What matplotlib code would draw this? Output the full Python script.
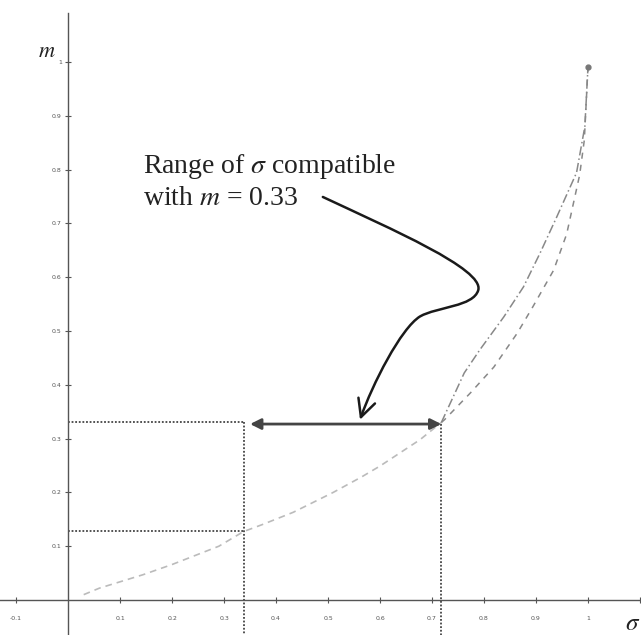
import numpy as np
import matplotlib
matplotlib.use("Agg")
import matplotlib.pyplot as plt
from matplotlib.path import Path
from matplotlib.patches import FancyArrowPatch

plt.rcParams['font.family'] = ['Liberation Serif', 'DejaVu Serif']
plt.rcParams['mathtext.fontset'] = 'stix'

# lower branch, shared by both curves (sigma, m)
sigma_low = [0.03, 0.06, 0.144, 0.2, 0.29, 0.337, 0.373, 0.433, 0.51, 0.565, 0.6, 0.677, 0.718]
m_low = [0.01, 0.022, 0.047, 0.066, 0.1, 0.127, 0.14, 0.163, 0.2, 0.229, 0.249, 0.298, 0.33]

# upper branches
sigma_a = [0.718, 0.762, 0.792, 0.838, 0.876, 0.908, 0.94, 0.978, 0.994, 1.0]
m_a = [0.33, 0.422, 0.465, 0.526, 0.582, 0.645, 0.712, 0.794, 0.88, 0.99]
sigma_b = [0.718, 0.724, 0.774, 0.819, 0.864, 0.894, 0.934, 0.959, 0.984, 0.993, 1.0]
m_b = [0.33, 0.335, 0.385, 0.433, 0.496, 0.545, 0.613, 0.68, 0.79, 0.855, 0.99]

# range of sigma read at m = 0.33, and the point at sigma_min
m_target = 0.33
sigma_min = 0.338
sigma_max = 0.718
m_at_sigma_min = 0.128

xtick_vals = [-0.1, 0.1, 0.2, 0.3, 0.4, 0.5, 0.6, 0.7, 0.8, 0.9, 1.0, 1.1]
xtick_labels = ['-0.1', '0.1', '0.2', '0.3', '0.4', '0.5', '0.6', '0.7', '0.8', '0.9', '1', '']
ytick_vals = [0.1, 0.2, 0.3, 0.4, 0.5, 0.6, 0.7, 0.8, 0.9, 1.0]
ytick_labels = ['0.1', '0.2', '0.3', '0.4', '0.5', '0.6', '0.7', '0.8', '0.9', '1']

fig = plt.figure(figsize=(6.41, 6.35), dpi=100)
ax = fig.add_axes([0, 0, 1, 1])
ax.set_xlim(-0.131, 1.102)
ax.set_ylim(-0.065, 1.115)

for s in ['top', 'right']:
    ax.spines[s].set_visible(False)
ax.spines['left'].set_position(('data', 0))
ax.spines['bottom'].set_position(('data', 0))
ax.spines['left'].set_bounds(-0.065, 1.09)
ax.spines['left'].set_color('#555555')
ax.spines['bottom'].set_color('#555555')
ax.spines['left'].set_linewidth(1.0)
ax.spines['bottom'].set_linewidth(1.0)

ax.set_xticks(xtick_vals)
ax.set_xticklabels(xtick_labels)
ax.set_yticks(ytick_vals)
ax.set_yticklabels(ytick_labels)
ax.tick_params(axis='both', direction='inout', length=5, width=0.8,
               labelsize=4.5, colors='#555555')
ax.tick_params(axis='x', pad=9)
ax.tick_params(axis='y', pad=2)
for lab in ax.get_xticklabels() + ax.get_yticklabels():
    lab.set_family('DejaVu Sans')

# curves
ax.plot(sigma_low, m_low, color='#bbbbbb', lw=1.2, ls=(0, (4, 3)))
ax.plot(sigma_a, m_a, color='#888888', lw=1.1, ls=(0, (6, 2, 1, 2)))
ax.plot(sigma_b, m_b, color='#888888', lw=1.1, ls=(0, (4, 4)))
ax.plot([sigma_a[-1]], [m_a[-1]], 'o', color='#777777', ms=3.5)

# dotted guide lines
dot = dict(color='#444444', lw=1.3, ls=(0, (1, 1)))
ax.plot([0, sigma_min], [m_target, m_target], **dot)
ax.plot([0, sigma_min], [m_at_sigma_min, m_at_sigma_min], **dot)
ax.plot([sigma_min, sigma_min], [m_target, -0.065], **dot)
ax.plot([sigma_max, sigma_max], [m_target - 0.003, -0.065], **dot)

# double arrow showing the range
ax.annotate('', xy=(sigma_min + 0.012, m_target - 0.003), xytext=(sigma_max, m_target - 0.003),
            arrowprops=dict(arrowstyle='<|-|>', lw=2.0, color='#444444',
                            shrinkA=0, shrinkB=0, mutation_scale=16))

# callout text and curved pointer
ax.text(0.144, 0.794, 'Range of $\\sigma$ compatible', fontsize=20,
        color='#222222', ha='left', va='baseline')
ax.text(0.144, 0.734, 'with $m$ = 0.33', fontsize=20,
        color='#222222', ha='left', va='baseline')

verts = [(0.490, 0.749),
         (0.62, 0.69), (0.80, 0.615), (0.789, 0.576),
         (0.78, 0.545), (0.71, 0.545), (0.677, 0.527),
         (0.64, 0.505), (0.585, 0.40), (0.5615, 0.335)]
codes = [Path.MOVETO] + [Path.CURVE4] * 9
pointer = FancyArrowPatch(path=Path(verts, codes), arrowstyle='->,head_length=0.9,head_width=0.45',
                          lw=1.8, color='#1a1a1a', mutation_scale=14)
ax.add_patch(pointer)

# axis labels
ax.text(-0.04, 1.018, '$m$', fontsize=16, color='#222222', ha='center', va='center')
ax.text(1.085, -0.045, '$\\sigma$', fontsize=18, color='#222222', ha='center', va='center')

fig.savefig('out.png', dpi=100)
